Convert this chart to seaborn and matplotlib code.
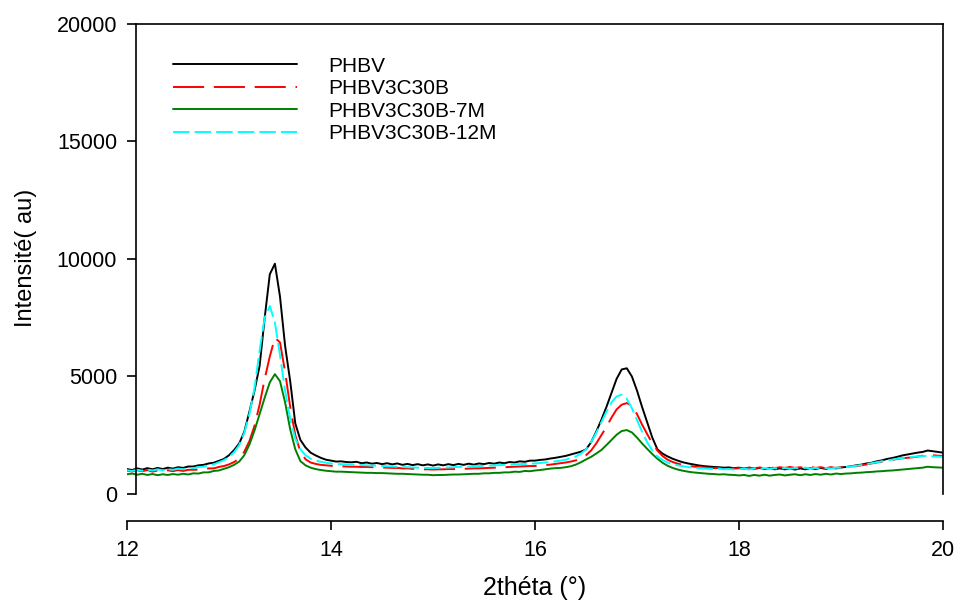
import numpy as np
import pandas as pd
import matplotlib
matplotlib.use("Agg")
import matplotlib.pyplot as plt
from matplotlib.lines import Line2D
import seaborn as sns

# Diffraction angle grid (2theta, degrees), 0.05 deg step
two_theta = np.linspace(12.0, 20.0, 161)

# Intensities (a.u.), one value per 0.05 deg from 12.00 to 20.00
phbv = [
    1060, 1020, 1090, 1040, 1100, 1050, 1110, 1060, 1120, 1080, 1140, 1110, 1170, 1170, 1220, 1240, 1300, 1330, 1410, 1490,
    1650, 1870, 2150, 2650, 3500, 4400, 5450, 7500, 9350, 9800, 8400, 6300, 4800, 3000, 2300, 1980, 1760, 1640, 1540, 1460,
    1420, 1380, 1390, 1360, 1350, 1370, 1310, 1340, 1290, 1320, 1270, 1310, 1260, 1300, 1240, 1280, 1230, 1270, 1220, 1260,
    1210, 1260, 1220, 1270, 1230, 1280, 1240, 1290, 1250, 1300, 1270, 1320, 1290, 1340, 1310, 1360, 1340, 1390, 1370, 1420,
    1420, 1450, 1470, 1510, 1540, 1580, 1620, 1680, 1740, 1800, 1900, 2200, 2650, 3150, 3700, 4300, 4900, 5300, 5350, 5000,
    4400, 3700, 3050, 2400, 1900, 1720, 1600, 1500, 1420, 1350, 1300, 1260, 1220, 1190, 1170, 1150, 1140, 1120, 1130, 1100,
    1120, 1080, 1120, 1070, 1110, 1060, 1100, 1050, 1090, 1050, 1080, 1040, 1090, 1050, 1100, 1060, 1110, 1070, 1120, 1090,
    1130, 1150, 1180, 1220, 1250, 1300, 1330, 1390, 1430, 1490, 1530, 1580, 1640, 1680, 1720, 1760, 1790, 1850, 1820, 1790,
    1760,
]
phbv_3c30b = [
    990, 960, 1010, 970, 1020, 950, 1000, 960, 1010, 970, 1020, 980, 1030, 1030, 1040, 1050, 1090, 1090, 1150, 1190,
    1260, 1360, 1500, 1800, 2250, 2900, 3800, 4900, 5850, 6650, 6450, 5200, 3700, 2500, 1800, 1480, 1340, 1280, 1240, 1220,
    1200, 1180, 1180, 1170, 1160, 1160, 1150, 1150, 1140, 1140, 1130, 1120, 1110, 1110, 1090, 1090, 1070, 1070, 1050, 1050,
    1040, 1050, 1050, 1060, 1060, 1070, 1070, 1080, 1090, 1090, 1100, 1110, 1120, 1130, 1140, 1150, 1160, 1170, 1180, 1190,
    1190, 1220, 1230, 1250, 1280, 1310, 1340, 1380, 1430, 1520, 1650, 1850, 2150, 2500, 2850, 3250, 3600, 3800, 3870, 3750,
    3400, 2950, 2550, 2150, 1850, 1620, 1460, 1360, 1290, 1240, 1200, 1170, 1150, 1130, 1120, 1100, 1110, 1090, 1100, 1080,
    1100, 1080, 1120, 1090, 1130, 1090, 1140, 1100, 1140, 1110, 1150, 1110, 1140, 1100, 1150, 1110, 1140, 1100, 1140, 1110,
    1140, 1150, 1170, 1190, 1220, 1260, 1300, 1340, 1380, 1420, 1450, 1490, 1520, 1540, 1560, 1590, 1630, 1660, 1650, 1630,
    1620,
]
phbv_3c30b_7m = [
    840, 870, 820, 860, 810, 850, 800, 840, 810, 850, 820, 860, 830, 880, 870, 920, 920, 980, 1000, 1070,
    1140, 1240, 1380, 1650, 2100, 2700, 3400, 4100, 4750, 5100, 4800, 3900, 2750, 1900, 1400, 1220, 1120, 1060, 1020, 990,
    970, 950, 950, 940, 930, 920, 910, 900, 900, 890, 890, 880, 870, 860, 860, 850, 840, 830, 820, 820,
    800, 810, 810, 820, 830, 830, 840, 850, 860, 860, 880, 880, 900, 900, 920, 920, 950, 940, 980, 970,
    1000, 1020, 1050, 1080, 1100, 1110, 1140, 1180, 1250, 1350, 1470, 1580, 1720, 1870, 2080, 2300, 2520, 2680, 2720, 2620,
    2400, 2150, 1920, 1700, 1500, 1330, 1200, 1110, 1040, 990, 950, 920, 900, 880, 860, 850, 830, 840, 820, 810,
    790, 810, 770, 810, 780, 820, 780, 810, 830, 790, 820, 840, 800, 840, 810, 850, 820, 860, 830, 870,
    850, 870, 880, 900, 910, 930, 940, 960, 970, 990, 1000, 1020, 1040, 1060, 1080, 1100, 1120, 1160, 1140, 1130,
    1120,
]
phbv_3c30b_12m = [
    1010, 980, 1030, 990, 1040, 1000, 1050, 1010, 1060, 1030, 1080, 1050, 1100, 1100, 1150, 1160, 1220, 1260, 1350, 1440,
    1580, 1780, 2080, 2600, 3400, 4500, 6100, 7500, 8000, 7300, 5900, 4400, 3200, 2350, 1900, 1650, 1500, 1420, 1370, 1330,
    1300, 1270, 1270, 1260, 1250, 1240, 1230, 1220, 1210, 1200, 1190, 1180, 1170, 1160, 1150, 1140, 1130, 1120, 1110, 1110,
    1100, 1120, 1120, 1130, 1140, 1150, 1160, 1170, 1180, 1190, 1200, 1210, 1220, 1230, 1240, 1250, 1260, 1270, 1280, 1290,
    1300, 1320, 1340, 1360, 1390, 1420, 1460, 1520, 1600, 1720, 1900, 2200, 2600, 3050, 3500, 3900, 4150, 4230, 4050, 3650,
    3150, 2650, 2200, 1850, 1600, 1450, 1340, 1270, 1220, 1180, 1150, 1120, 1100, 1090, 1070, 1060, 1070, 1050, 1060, 1040,
    1050, 1080, 1040, 1090, 1050, 1100, 1060, 1100, 1070, 1110, 1070, 1110, 1080, 1120, 1080, 1110, 1070, 1110, 1080, 1120,
    1120, 1140, 1170, 1200, 1230, 1270, 1310, 1350, 1390, 1430, 1460, 1500, 1530, 1560, 1580, 1600, 1610, 1620, 1600, 1590,
    1580,
]

sample_names = ["PHBV", "PHBV3C30B", "PHBV3C30B-7M", "PHBV3C30B-12M"]
x_ticks = [12, 14, 16, 18, 20]
y_ticks = [0, 5000, 10000, 15000, 20000]

line_colors = ["black", "red", "green", "cyan"]
line_dashes = ["", (16, 5), "", (8.5, 2.6)]

frames = []
for name, values in zip(sample_names, [phbv, phbv_3c30b, phbv_3c30b_7m, phbv_3c30b_12m]):
    frames.append(pd.DataFrame({"two_theta": two_theta, "intensity": values, "sample": name}))
data = pd.concat(frames, ignore_index=True)

sns.set_theme(style="ticks")
plt.rcParams["font.family"] = ["Liberation Sans", "DejaVu Sans"]
plt.rcParams["text.color"] = "black"

W, H = 958, 601
fig = plt.figure(figsize=(W / 100, H / 100), dpi=100)
ax = fig.add_axes([127 / W, 80 / H, 816 / W, 497 / H])

LW = 1.4
sns.lineplot(
    data=data, x="two_theta", y="intensity",
    hue="sample", style="sample",
    palette=dict(zip(sample_names, line_colors)),
    dashes=dict(zip(sample_names, line_dashes)),
    hue_order=sample_names, style_order=sample_names,
    estimator=None, sort=False, linewidth=LW, legend=False, ax=ax,
)

ax.set_xlim(12, 20)
ax.set_ylim(-1149, 20000)
ax.set_xticks(x_ticks)
ax.set_yticks(y_ticks)
ax.set_xticklabels([str(v) for v in x_ticks])
ax.set_yticklabels([str(v) for v in y_ticks])

# Box around the data region, with a detached x axis underneath
left_x = 12.088
ax.spines["left"].set_position(("data", left_x))
ax.spines["left"].set_bounds(0, 20000)
ax.spines["right"].set_visible(True)
ax.spines["right"].set_bounds(0, 20000)
ax.spines["top"].set_visible(True)
ax.spines["top"].set_bounds(left_x, 20)
for sp in ax.spines.values():
    sp.set_color("black")
    sp.set_linewidth(1.2)

ax.tick_params(axis="both", which="major", direction="out", length=6.5, width=1.2,
               color="black", labelcolor="black", labelsize=15.5)
ax.tick_params(axis="y", pad=7)
ax.tick_params(axis="x", pad=7.5)
ax.tick_params(right=False, top=False)

ax.set_xlabel("2théta (°)", fontsize=18, color="black")
ax.set_ylabel("Intensité( au)", fontsize=17, color="black")
ax.xaxis.set_label_coords(0.5, -(576 - 521) / 497)
ax.yaxis.set_label_coords((37 - 127) / 816, (521 - 258) / 497)

handles = []
for c, d in zip(line_colors, line_dashes):
    h = Line2D([], [], color=c, linewidth=LW)
    if d:
        h.set_dashes(d)
    handles.append(h)
leg = ax.legend(handles, sample_names, loc="upper left",
                bbox_to_anchor=(173 / W, 1 - 56.5 / H), bbox_transform=fig.transFigure,
                frameon=False, fontsize=15, handlelength=5.95, handletextpad=1.5,
                labelspacing=0.17, borderpad=0, borderaxespad=0)
for t in leg.get_texts():
    t.set_color("black")

fig.savefig("out.png", dpi=100, facecolor="white")
